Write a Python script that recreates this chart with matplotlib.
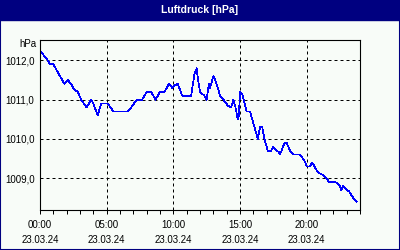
import matplotlib
matplotlib.use('Agg')
import matplotlib.pyplot as plt
from matplotlib.patches import Rectangle
from matplotlib.ticker import FixedLocator, MultipleLocator, FuncFormatter

# readings of 23.03.24 (time, hPa)
times = ['00:00', '00:35', '00:45', '01:00', '01:50', '02:05', '02:20', '02:35',
         '02:50', '03:05', '03:30', '03:50', '04:00', '04:20', '04:35', '05:05',
         '05:30', '06:35', '06:50', '07:15', '07:40', '08:00', '08:20', '08:40',
         '09:00', '09:20', '09:40', '09:55', '10:15', '10:20', '10:40', '11:20',
         '11:35', '11:45', '11:50', '12:00', '12:20', '12:30', '12:40', '12:45',
         '13:00', '13:05', '13:20', '13:30', '13:45', '14:05', '14:20', '14:30',
         '14:40', '14:50', '14:55', '15:00', '15:10', '15:30', '15:45', '16:05',
         '16:20', '16:30', '16:40', '16:50', '17:05', '17:20', '17:30', '17:45',
         '17:55', '18:00', '18:20', '18:30', '18:45', '19:00', '19:30', '19:50',
         '20:00', '20:15', '20:25', '20:45', '21:00', '21:15', '21:30', '21:40',
         '22:10', '22:30', '22:35', '22:45', '23:00', '23:10', '23:35', '23:45']
pressure = [1012.25, 1012.0, 1011.9, 1011.9, 1011.4, 1011.5, 1011.4, 1011.25,
            1011.2, 1011.0, 1010.8, 1011.0, 1010.9, 1010.6, 1010.9, 1010.9,
            1010.7, 1010.7, 1010.8, 1011.0, 1011.0, 1011.2, 1011.2, 1011.0,
            1011.2, 1011.2, 1011.4, 1011.3, 1011.4, 1011.4, 1011.1, 1011.1,
            1011.65, 1011.8, 1011.55, 1011.2, 1011.1, 1011.0, 1011.4, 1011.3,
            1011.6, 1011.55, 1011.3, 1011.1, 1011.0, 1010.85, 1010.8, 1011.0,
            1010.8, 1010.5, 1010.6, 1011.2, 1011.15, 1010.7, 1010.7, 1010.3,
            1010.0, 1010.3, 1010.3, 1010.0, 1009.7, 1009.7, 1009.8, 1009.7,
            1009.67, 1009.6, 1009.9, 1009.9, 1009.7, 1009.6, 1009.6, 1009.45,
            1009.3, 1009.3, 1009.4, 1009.2, 1009.12, 1009.08, 1009.0, 1008.9,
            1008.9, 1008.8, 1008.7, 1008.8, 1008.7, 1008.67, 1008.45, 1008.4]
x_ticks = [0, 5, 10, 15, 20]
y_ticks = [1009, 1010, 1011, 1012]
date_label = '23.03.24'
title = 'Luftdruck [hPa]'
unit = 'hPa'

hours = [int(t[:2]) + int(t[3:]) / 60 for t in times]

navy = '#000080'
bg = '#f8fcf8'
font = 'Liberation Sans'

fig = plt.figure(figsize=(4, 2.5), dpi=100, facecolor=bg)
# frame and title bar
fig.patches.append(Rectangle((0, 0), 1, 1, transform=fig.transFigure, fill=False,
                             edgecolor=navy, linewidth=1.5, zorder=0))
fig.patches.append(Rectangle((0, 1 - 20 / 250), 1, 20 / 250, transform=fig.transFigure,
                             facecolor=navy, edgecolor=navy, zorder=1))
fig.text(0.5, 1 - 10 / 250, title, color='white', fontsize=7.5, fontweight='bold',
         family=font, ha='center', va='center')

ax = fig.add_axes([40 / 400, 40 / 250, 320 / 400, 170 / 250], facecolor=bg)
ax.plot(hours, pressure, color='#0000ff', linewidth=0.5, antialiased=False)

ax.set_xlim(0, 24)
ax.set_ylim(1008.19, 1012.52)
ax.xaxis.set_major_locator(FixedLocator(x_ticks))
ax.xaxis.set_minor_locator(MultipleLocator(1))
ax.xaxis.set_major_formatter(FuncFormatter(lambda v, p: '%02d:00\n%s' % (v, date_label)))
ax.yaxis.set_major_locator(FixedLocator(y_ticks))
ax.yaxis.set_major_formatter(FuncFormatter(lambda v, p: ('%.1f' % v).replace('.', ',')))

ax.grid(True, which='major', color='black', linestyle=(0, (3, 3)), linewidth=0.72)
ax.tick_params(axis='x', which='both', direction='out', length=3, width=0.72, pad=4)
ax.tick_params(axis='y', length=0, pad=4)
for lab in ax.get_xticklabels() + ax.get_yticklabels():
    lab.set_fontsize(7)
    lab.set_family(font)
for lab in ax.get_xticklabels():
    lab.set_linespacing(1.6)
for s in ax.spines.values():
    s.set_linewidth(0.8)

fig.text(36 / 400, 1 - 44 / 250, unit, fontsize=7, family=font, ha='right', va='center')

fig.savefig('out.png', dpi=100, facecolor=bg)
